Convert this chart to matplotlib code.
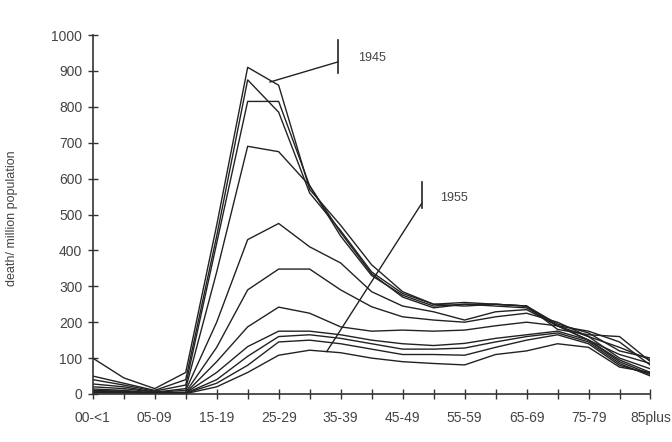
import numpy as np
import matplotlib.pyplot as plt

plt.rcParams['font.family'] = ['Liberation Sans', 'DejaVu Sans']

ages = ['00-<1', '01-04', '05-09', '10-14', '15-19', '20-24', '25-29', '30-34', '35-39',
        '40-44', '45-49', '50-54', '55-59', '60-64', '65-69', '70-74', '75-79', '80-84', '85plus']

# deaths per million population, one row per year 1945 .. 1955
y1945 = [100, 45, 15, 60, 470, 910, 860, 570, 470, 360, 285, 250, 255, 250, 245, 180, 165, 160, 90]
y1946 = [50, 30, 10, 40, 440, 875, 785, 560, 455, 340, 280, 250, 245, 250, 245, 190, 175, 145, 80]
y1947 = [40, 25, 8, 25, 420, 815, 815, 580, 440, 330, 275, 245, 250, 245, 240, 190, 160, 130, 95]
y1948 = [28, 20, 5, 15, 340, 690, 675, 580, 450, 335, 270, 240, 250, 250, 245, 195, 170, 120, 100]
y1949 = [20, 15, 5, 10, 200, 430, 475, 410, 365, 285, 245, 229, 206, 229, 235, 190, 150, 110, 85]
y1950 = [14, 10, 3, 5, 130, 290, 348, 348, 290, 243, 215, 206, 200, 215, 225, 200, 160, 100, 70]
y1951 = [10, 8, 2, 3, 90, 187, 242, 225, 187, 175, 178, 175, 178, 190, 200, 190, 150, 95, 60]
y1952 = [8, 6, 2, 3, 60, 132, 175, 175, 165, 150, 140, 135, 141, 155, 165, 175, 150, 90, 55]
y1953 = [6, 5, 2, 2, 40, 105, 160, 165, 155, 140, 125, 125, 128, 145, 160, 170, 145, 85, 50]
y1954 = [5, 4, 2, 2, 30, 80, 145, 150, 140, 125, 110, 110, 108, 130, 150, 165, 140, 80, 55]
y1955 = [3, 3, 1, 1, 20, 60, 108, 122, 115, 100, 90, 85, 81, 110, 120, 140, 130, 75, 60]
years = [y1945, y1946, y1947, y1948, y1949, y1950, y1951, y1952, y1953, y1954, y1955]

# leader lines for the two year labels (data coordinates)
lab1945 = {'text': '1945', 'start': (5.72, 869), 'end': (7.91, 925), 'tick': (894, 986), 'pos': (8.55, 936)}
lab1955 = {'text': '1955', 'start': (7.55, 118), 'end': (10.61, 530), 'tick': (518, 591), 'pos': (11.2, 546)}

fig = plt.figure(figsize=(6.72, 4.42), dpi=100)
ax = fig.add_axes([0.138, 0.1086, 0.83, 0.8122])

x = np.arange(len(ages))
for vals in years:
    ax.plot(x, vals, color='#222222', linewidth=1.0)

for lab in [lab1945, lab1955]:
    (x0, y0), (x1, y1) = lab['start'], lab['end']
    ax.plot([x0, x1], [y0, y1], color='#222222', linewidth=1.0)
    ax.plot([x1, x1], lab['tick'], color='#222222', linewidth=1.2)
    ax.text(lab['pos'][0], lab['pos'][1], lab['text'], fontsize=9, color='#444444',
            va='center', ha='left')

ax.set_xlim(0, len(ages) - 1)
ax.set_ylim(0, 1000)
ax.set_yticks(np.arange(0, 1001, 100))
ax.set_xticks(x)
ax.set_xticklabels([a if i % 2 == 0 else '' for i, a in enumerate(ages)])
ax.set_ylabel('death/ million population', fontsize=9, color='#444444')
ax.yaxis.set_label_coords(-0.134, 0.49)

for s in ['top', 'right']:
    ax.spines[s].set_visible(False)
for s in ['left', 'bottom']:
    ax.spines[s].set_color('#333333')
    ax.spines[s].set_linewidth(1.2)
ax.tick_params(direction='inout', length=7, width=1.0, color='#333333',
               labelcolor='#444444', labelsize=10)
ax.tick_params(axis='x', pad=9)
ax.tick_params(axis='y', pad=4)

fig.savefig('out.png', dpi=100)
